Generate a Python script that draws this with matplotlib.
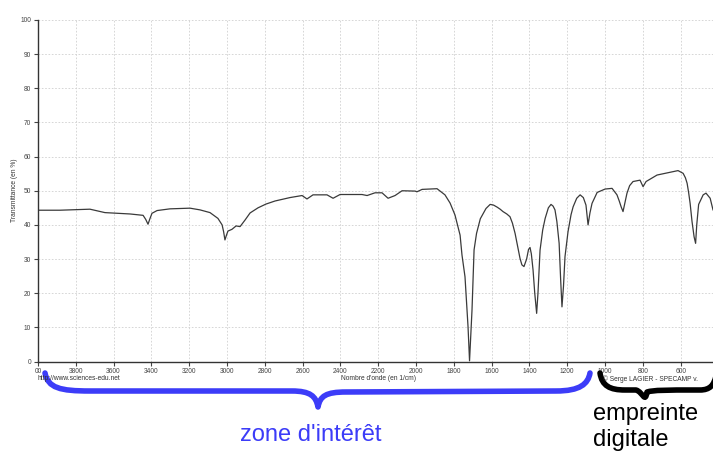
import matplotlib
matplotlib.use("Agg")
import matplotlib.pyplot as plt
from matplotlib.path import Path
from matplotlib.patches import PathPatch

# ---- data ----
wavenumber = [4000, 3884, 3725, 3646, 3513, 3444, 3430, 3418, 3408, 3397,
              3370, 3302, 3196, 3143, 3090, 3048, 3026, 3018, 3011, 3003,
              2995, 2974, 2952, 2931, 2905, 2878, 2836, 2794, 2746, 2667,
              2603, 2577, 2545, 2471, 2439, 2402, 2286, 2259, 2217, 2180,
              2148, 2111, 2074, 2005, 1995, 1968, 1889, 1847, 1820, 1794,
              1783, 1767, 1757, 1741, 1725, 1717, 1704, 1693, 1680, 1660,
              1630, 1608, 1590, 1571, 1555, 1540, 1520, 1503, 1490, 1476,
              1462, 1450, 1440, 1429, 1415, 1405, 1397, 1390, 1381, 1372,
              1362, 1355, 1344, 1330, 1317, 1300, 1286, 1275, 1265, 1255,
              1243, 1235, 1228, 1220, 1212, 1196, 1180, 1169, 1150, 1132,
              1115, 1101, 1090, 1080, 1069, 1042, 1000, 963, 937, 925,
              915, 905, 895, 884, 870, 852, 815, 799, 783, 725,
              656, 614, 587, 575, 566, 558, 550, 540, 529, 521,
              515, 505, 481, 466, 444, 429]
transmittance = [44.3, 44.3, 44.6, 43.6, 43.2, 42.8, 41.6, 40.2, 41.8, 43.4,
                 44.2, 44.7, 44.9, 44.4, 43.6, 41.9, 40.0, 38.0, 35.6, 37.0,
                 38.2, 38.7, 39.7, 39.5, 41.4, 43.5, 45.0, 46.1, 47.0, 48.0,
                 48.6, 47.6, 48.8, 48.8, 47.8, 48.9, 48.9, 48.6, 49.4, 49.4,
                 47.8, 48.6, 50.0, 49.9, 49.7, 50.4, 50.6, 48.8, 46.4, 42.9,
                 40.5, 37.0, 31.2, 24.8, 10.2, 0.2, 15.0, 32.7, 37.5, 41.8,
                 44.8, 46.0, 45.8, 45.2, 44.6, 43.9, 43.2, 42.4, 40.5, 37.5,
                 33.5, 30.2, 28.3, 27.8, 30.0, 32.8, 33.4, 31.5, 26.8, 20.0,
                 14.1, 20.0, 32.6, 38.5, 41.9, 45.0, 46.0, 45.5, 44.4, 41.0,
                 34.6, 24.0, 16.0, 22.0, 30.7, 38.0, 43.0, 45.3, 47.8, 48.8,
                 48.0, 45.8, 40.0, 43.5, 46.3, 49.5, 50.5, 50.7, 48.8, 47.0,
                 45.3, 43.9, 46.5, 49.3, 51.5, 52.7, 53.1, 51.2, 52.7, 54.6,
                 55.4, 55.9, 55.1, 53.8, 52.2, 49.5, 46.3, 41.0, 36.5, 34.6,
                 40.0, 46.0, 48.8, 49.3, 47.8, 44.4]

x_ticks = [4000, 3800, 3600, 3400, 3200, 3000, 2800, 2600, 2400, 2200, 2000,
           1800, 1600, 1400, 1200, 1000, 800, 600]
x_tick_labels = ["00", "3800", "3600", "3400", "3200", "3000", "2800", "2600",
                 "2400", "2200", "2000", "1800", "1600", "1400", "1200", "1000",
                 "800", "600"]
y_ticks = [0, 10, 20, 30, 40, 50, 60, 70, 80, 90, 100]

W, H = 713, 455
fig = plt.figure(figsize=(W / 100, H / 100), dpi=100)
plt.rcParams['font.family'] = ['Liberation Sans', 'DejaVu Sans']

def fx(px):
    return px / W

def fy(py):
    return 1 - py / H

ax = fig.add_axes([fx(38), fy(361.5), 1 - fx(38), fy(20) - fy(361.5)])
ax.plot(wavenumber, transmittance, color='#3a3a3a', lw=0.9,
        solid_joinstyle='round')
ax.set_xlim(4000, 429)
ax.set_ylim(0, 100)
ax.set_xticks(x_ticks)
ax.set_xticklabels(x_tick_labels)
ax.set_yticks(y_ticks)
ax.tick_params(labelsize=4.8, length=3, width=0.8, colors='#444444', pad=2)
ax.grid(True, color='#d0d0d0', linestyle=(0, (2, 2)), lw=0.6)
for s in ['top', 'right']:
    ax.spines[s].set_visible(False)
for s in ['left', 'bottom']:
    ax.spines[s].set_color('#333333')
    ax.spines[s].set_linewidth(1.0)

txt_col = '#333333'
fig.text(fx(14), fy(190), "Transmittance (en %)", rotation=90, fontsize=4.8,
         ha='center', va='center', color=txt_col)
fig.text(fx(378), fy(379), "Nombre d'onde (en 1/cm)", fontsize=4.8,
         ha='center', va='center', color=txt_col)
fig.text(fx(37), fy(379), "http://www.sciences-edu.net", fontsize=4.8,
         ha='left', va='center', color=txt_col)
fig.text(fx(603), fy(379), "© Serge LAGIER - SPECAMP v.", fontsize=4.8,
         ha='left', va='center', color=txt_col)

def brace(points, codes, color, lw):
    verts = [(fx(px), fy(py)) for px, py in points]
    p = Path(verts, codes)
    patch = PathPatch(p, facecolor='none', edgecolor=color, lw=lw,
                      transform=fig.transFigure, capstyle='round',
                      joinstyle='round')
    fig.add_artist(patch)

M, L, C = Path.MOVETO, Path.LINETO, Path.CURVE4
blue = '#3c3cf8'
brace([(45, 373), (48, 388), (60, 391), (90, 391), (292, 391),
       (310, 391), (316, 396), (318, 407), (320, 396), (326, 392),
       (346, 392), (556, 391), (580, 391), (588, 384), (590, 373)],
      [M, C, C, C, L, C, C, C, C, C, C, L, C, C, C], blue, 4.0)

brace([(600, 373), (602, 386), (610, 390), (625, 390), (636, 390),
       (643, 392), (645, 404), (647, 392), (654, 390), (665, 390),
       (700, 390), (710, 390), (714, 385), (716, 376)],
      [M, C, C, C, L, C, C, C, C, C, L, C, C, C], 'black', 4.0)

fig.text(fx(311), fy(435), "zone d'intérêt", fontsize=17, color=blue,
         ha='center', va='center')
fig.text(fx(593), fy(414), "empreinte", fontsize=17, color='black',
         ha='left', va='center')
fig.text(fx(593), fy(440), "digitale", fontsize=17, color='black',
         ha='left', va='center')

fig.savefig("out.png", dpi=100, facecolor='white')
